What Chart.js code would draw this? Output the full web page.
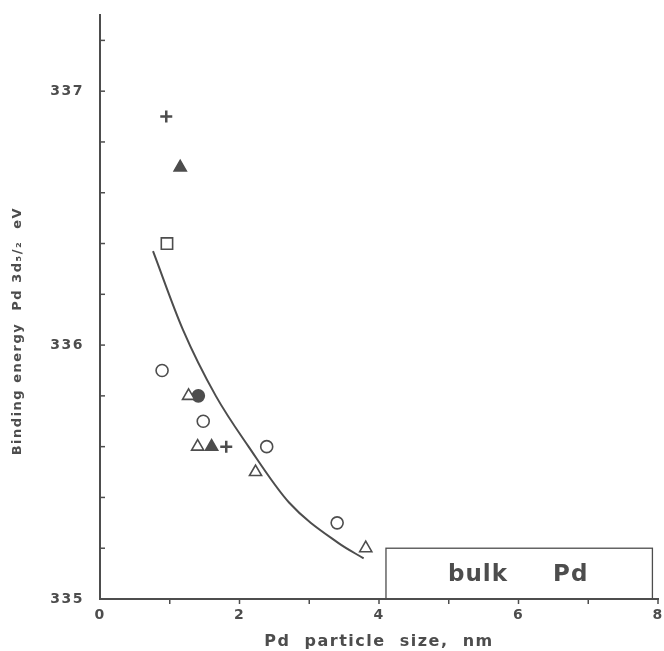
<!DOCTYPE html>
<html>
<head>
<meta charset="utf-8">
<script src="https://cdn.jsdelivr.net/npm/chart.js@4/dist/chart.umd.min.js"></script>
<style>
  body { margin: 0; background: #fff; }
  #wrap { width: 664px; height: 651px; position: relative; }
</style>
</head>
<body>
<div id="wrap"><canvas id="bePlot"></canvas></div>
<script>
// data (x = particle size in nm, y = binding energy in eV)
const openCircleX = [0.89, 1.48, 2.39, 3.40];
const openCircleY = [335.90, 335.70, 335.60, 335.30];
const openTriangleX = [1.27, 1.40, 2.23, 3.81];
const openTriangleY = [335.80, 335.60, 335.50, 335.20];
const filledTriangleX = [1.15, 1.60];
const filledTriangleY = [336.70, 335.60];
const filledCircleX = [1.41];
const filledCircleY = [335.80];
const squareX = [0.96];
const squareY = [336.40];
const plusX = [0.95, 1.81];
const plusY = [336.90, 335.60];

// fitted curve
const curveX = [0.76, 1.19, 1.66, 2.13, 2.71, 3.42, 3.78];
const curveY = [336.37, 336.06, 335.80, 335.60, 335.38, 335.22, 335.16];

// bulk Pd box (data units)
const bulkX = [4.1, 7.92];
const bulkY = [335.0, 335.2];
const bulkLabel = "bulk     Pd";

const xTickLabels = [0, 2, 4, 6, 8];
const yTickLabels = [335, 336, 337];

const ink = "#4d4d4d";
const fontName = "'DejaVu Sans', sans-serif";

function pts(xs, ys) {
  return xs.map((x, i) => ({ x: x, y: ys[i] }));
}

// tick marks + bulk box
const extras = {
  id: "extras",
  afterLayout(chart) {
    // keep the plot frame where the original has it
    const xs = chart.scales.x;
    const right = chart.width - 6;
    xs.right = right;
    xs.width = right - xs.left;
    xs.configure();
    chart.chartArea.right = right;
    chart.chartArea.width = right - chart.chartArea.left;
  },
  beforeDraw(chart) {
    chart.ctx.letterSpacing = "1.5px";
  },
  afterDraw(chart) {
    const ctx = chart.ctx;
    const xs = chart.scales.x;
    const ys = chart.scales.y;
    ctx.save();
    ctx.strokeStyle = ink;
    ctx.lineWidth = 1.5;
    // y ticks point inward
    for (let v = 335.2; v < 337.25; v += 0.2) {
      const py = ys.getPixelForValue(v);
      ctx.beginPath();
      ctx.moveTo(xs.left, py);
      ctx.lineTo(xs.left + 5, py);
      ctx.stroke();
    }
    // x ticks point down
    for (let v = 1; v <= 8; v++) {
      const px = xs.getPixelForValue(v);
      ctx.beginPath();
      ctx.moveTo(px, ys.bottom - 1);
      ctx.lineTo(px, ys.bottom + 5);
      ctx.stroke();
    }
    // bulk box
    const x0 = xs.getPixelForValue(bulkX[0]);
    const x1 = xs.getPixelForValue(bulkX[1]);
    const y0 = ys.getPixelForValue(bulkY[1]);
    const y1 = ys.getPixelForValue(bulkY[0]);
    ctx.lineWidth = 1.3;
    ctx.strokeRect(x0, y0, x1 - x0, y1 - y0);
    ctx.fillStyle = ink;
    ctx.letterSpacing = "1px";
    ctx.font = "bold 23px " + fontName;
    ctx.textAlign = "center";
    ctx.textBaseline = "middle";
    ctx.fillText(bulkLabel, (x0 + x1) / 2 - 1, (y0 + y1) / 2 + 1);
    ctx.restore();
    ctx.letterSpacing = "0px";
  }
};

const markerBase = {
  borderColor: ink,
  backgroundColor: "#fff",
  borderWidth: 1.6,
  showLine: false
};

new Chart(document.getElementById("bePlot"), {
  type: "scatter",
  data: {
    datasets: [
      { ...markerBase, label: "curve", data: pts(curveX, curveY), showLine: true,
        pointRadius: 0, borderWidth: 2, cubicInterpolationMode: "monotone" },
      { ...markerBase, label: "open circle", data: pts(openCircleX, openCircleY),
        pointStyle: "circle", pointRadius: 6 },
      { ...markerBase, label: "open triangle", data: pts(openTriangleX, openTriangleY),
        pointStyle: "triangle", pointRadius: 7 },
      { ...markerBase, label: "filled triangle", data: pts(filledTriangleX, filledTriangleY),
        pointStyle: "triangle", pointRadius: 7, backgroundColor: ink },
      { ...markerBase, label: "filled circle", data: pts(filledCircleX, filledCircleY),
        pointStyle: "circle", pointRadius: 6, backgroundColor: ink },
      { ...markerBase, label: "square", data: pts(squareX, squareY),
        pointStyle: "rect", pointRadius: 8 },
      { ...markerBase, label: "plus", data: pts(plusX, plusY),
        pointStyle: "cross", pointRadius: 6, borderWidth: 2.5 }
    ]
  },
  options: {
    responsive: true,
    maintainAspectRatio: false,
    animation: false,
    layout: { padding: { top: 15, right: 6, left: 0, bottom: 0 } },
    plugins: {
      legend: { display: false },
      tooltip: { enabled: false }
    },
    scales: {
      x: {
        type: "linear",
        min: 0,
        max: 8,
        afterFit: (s) => { s.height = 52; s.paddingRight = 0; s.paddingLeft = 0; },
        grid: { display: false, drawTicks: false },
        border: { display: true, color: ink, width: 2 },
        ticks: {
          stepSize: 1,
          padding: 8,
          color: ink,
          font: { family: fontName, size: 14, weight: "bold" },
          maxRotation: 0,
          callback: (v) => (xTickLabels.includes(v) ? v : "")
        },
        title: {
          display: true,
          text: "Pd  particle  size,  nm",
          color: ink,
          font: { family: fontName, size: 16, weight: "bold" },
          padding: { top: 0, bottom: 0 }
        }
      },
      y: {
        type: "linear",
        min: 335,
        max: 337.3,
        afterFit: (s) => { s.width = 100; s.paddingTop = 0; s.paddingBottom = 0; },
        grid: { display: false, drawTicks: false },
        border: { display: true, color: ink, width: 2 },
        ticks: {
          stepSize: 0.2,
          includeBounds: false,
          padding: 16,
          color: ink,
          font: { family: fontName, size: 14, weight: "bold" },
          callback: (v) => {
            const r = Math.round(v);
            return Math.abs(v - r) < 1e-6 && yTickLabels.includes(r) ? r : "";
          }
        },
        title: {
          display: true,
          text: "Binding energy  Pd 3d\u2085/\u2082  eV        ",
          color: ink,
          font: { family: fontName, size: 13, weight: "bold" },
          padding: { top: 10, bottom: 0 }
        }
      }
    }
  },
  plugins: [extras]
});
</script>
</body>
</html>
